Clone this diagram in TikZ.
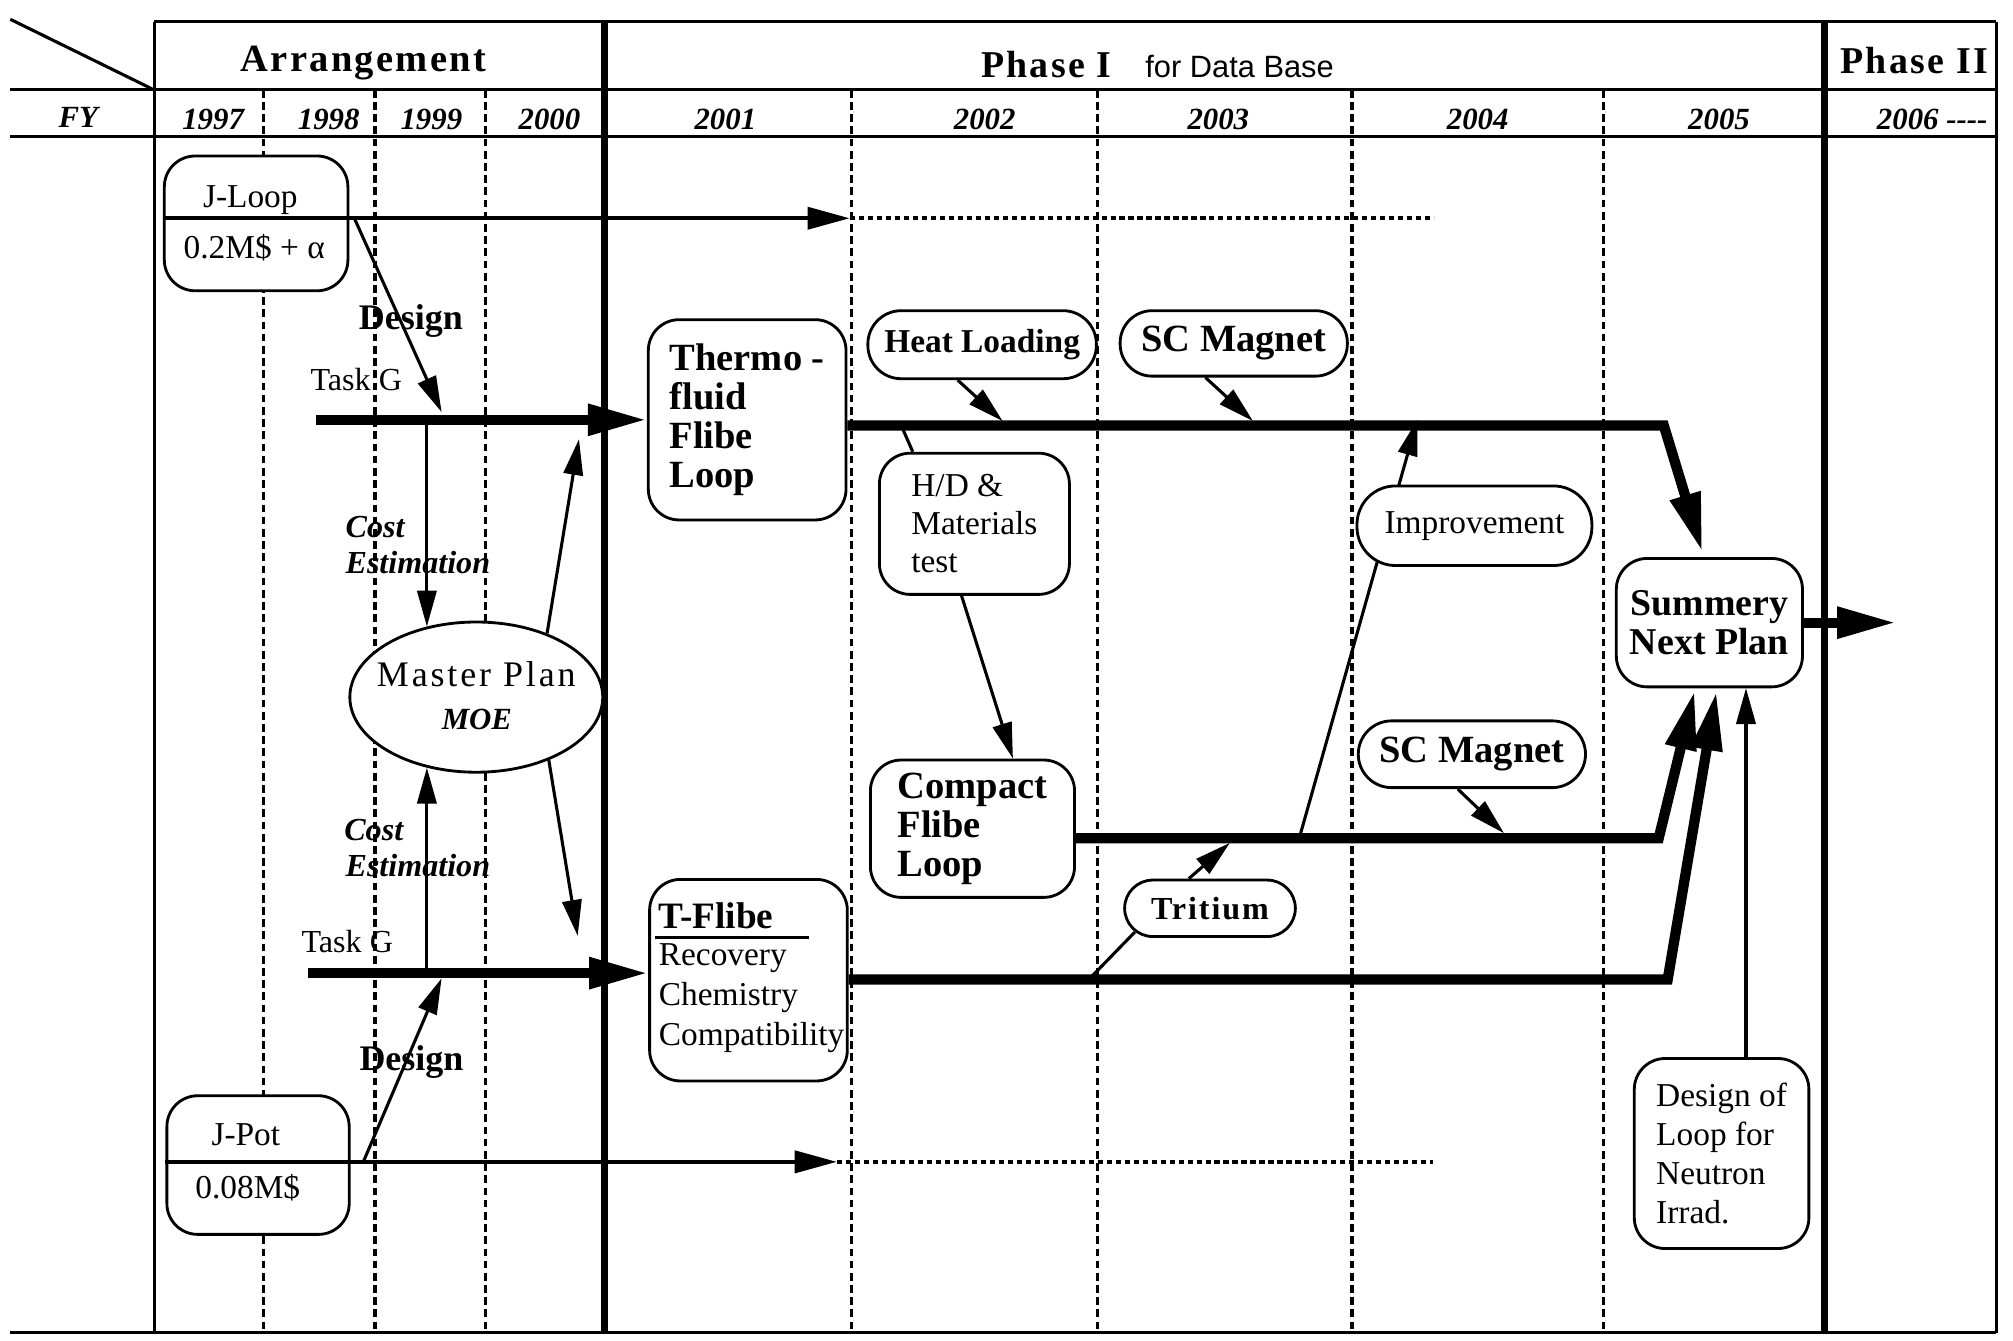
\documentclass[tikz,border=0pt]{standalone}
\usepackage{fontspec}
\setmainfont{Liberation Serif}
\newfontfamily\sansfam{Liberation Sans}
\newfontfamily\spacedfam[LetterSpace=6]{Liberation Serif}
\newfontfamily\widefam[LetterSpace=8]{Liberation Serif}
\usetikzlibrary{arrows.meta,shapes.geometric}
\pgfdeclarelayer{back}
\pgfdeclarelayer{mid}
\pgfsetlayers{back,mid,main}
\newcommand{\setfs}[2]{\fontsize{#1}{#2}\selectfont}
\begin{document}
\begin{tikzpicture}[x=1pt,y=-1pt,
  frameline/.style={line width=2.4pt},
  heavyrule/.style={line width=5.5pt},
  yeardash/.style={line width=2.6pt,dash pattern=on 6pt off 3.5pt},
  dotline/.style={line width=3.5pt,dash pattern=on 4pt off 3pt},
  box/.style={draw,line width=2.2pt,fill=white,rounded corners=24pt,inner sep=0pt},
  pill/.style={box,rounded corners=#1},
  lbl/.style={inner sep=0pt,anchor=base},
  lblw/.style={inner sep=0pt,anchor=base west},
  thinarrow/.style={line width=2.4pt,-{Triangle[length=28pt,width=15pt]}},
  plainline/.style={line width=2.4pt},
  midarrow/.style={line width=3.5pt,-{Triangle[length=33pt,width=17pt]}},
  heavyarrow/.style={line width=8pt,line join=miter,-{Triangle[length=46pt,width=23pt]}},
  yearfont/.style={font=\setfs{24}{24}\bfseries\itshape},
  costfont/.style={font=\setfs{25}{25}\bfseries\itshape},
]
\useasboundingbox (0,0) rectangle (1568,1044);

% ---------- coordinates ----------
\coordinate (jlend) at (662,170);
\coordinate (jldot) at (1117,170);
\coordinate (jpend) at (652,905);
\coordinate (jpdot) at (1116,905);
\coordinate (tg1s) at (246,327);
\coordinate (tg2s) at (240,758);
\coordinate (d1s) at (276,170);
\coordinate (d1e) at (344,321);
\coordinate (d2s) at (283,905);
\coordinate (d2e) at (344,762);
\coordinate (u1e) at (451,342);
\coordinate (dn1e) at (450,729);
\coordinate (o1b) at (1296,331.5);
\coordinate (o1e) at (1326,430);
\coordinate (hle) at (781,328);
\coordinate (sc1e) at (976,328);
\coordinate (hdl) at (702,331.5);
\coordinate (o2b) at (1292,653);
\coordinate (o2e) at (1320,538);
\coordinate (sc2e) at (1171.5,649);
\coordinate (impA) at (1012,653);
\coordinate (impB) at (1104,327);
\coordinate (tre) at (958,656.5);
\coordinate (trl) at (848,763);
\coordinate (o3b) at (1299,763);
\coordinate (o3e) at (1337,538.5);
\coordinate (so) at (1477,485);
\coordinate (dle) at (1360,536);

% ---------- header texts ----------
\node[lbl,font=\setfs{30}{30}\spacedfam\bfseries] (arr) at (283,55.5) {Arrangement};
\node[lblw,font=\setfs{29.5}{30}\spacedfam\bfseries] (ph1) at (764,60) {Phase I};
\node[lblw,font=\setfs{24}{24}\sansfam] (db) at (892,60) {for Data Base};
\node[lbl,font=\setfs{29.5}{30}\spacedfam\bfseries] (ph2) at (1491,57.5) {Phase II};
\node[lbl,yearfont] (fy) at (61,99) {FY};
\node[lbl,yearfont] (y97) at (166,100.5) {1997};
\node[lbl,yearfont] (y98) at (256,100.5) {1998};
\node[lbl,yearfont] (y99) at (336,100.5) {1999};
\node[lbl,yearfont] (y00) at (428,100.5) {2000};
\node[lbl,yearfont] (y01) at (565,100.5) {2001};
\node[lbl,yearfont] (y02) at (767,100.5) {2002};
\node[lbl,yearfont] (y03) at (949,100.5) {2003};
\node[lbl,yearfont] (y04) at (1151,100.5) {2004};
\node[lbl,yearfont] (y05) at (1339,100.5) {2005};
\node[lbl,yearfont] (y06) at (1505,100.5) {2006 -{}-{}-{}-};

% ---------- boxes ----------
\node[box,minimum width=143pt,minimum height=105pt] (jloop) at (199.5,174) {};
\node[lbl,font=\setfs{26}{26}] (jlt) at (195,161.5) {J-Loop};
\node[lbl,font=\setfs{26}{26}] (jlc) at (198,201.5) {0.2M\$ + α};

\node[box,minimum width=142pt,minimum height=108pt] (jpot) at (201,907.5) {};
\node[lbl,font=\setfs{26}{26}] (jpt) at (191.5,892) {J-Pot};
\node[lbl,font=\setfs{26}{26}] (jpc) at (193,933.5) {0.08M\$};

\node[ellipse,draw,line width=2.2pt,fill=white,inner sep=0pt,minimum width=197pt,minimum height=117pt] (mp) at (371,543) {};
\node[lbl,font=\setfs{28}{28}\widefam] (mpt) at (371,535) {Master Plan};
\node[lbl,font=\setfs{24}{24}\bfseries\itshape] (moe) at (371.5,568) {MOE};

\node[box,minimum width=154pt,minimum height=156pt,align=left,font=\setfs{30}{30.5}\bfseries] (thermo) at (582,327) {Thermo -\\fluid\\Flibe\\Loop};
\node[pill=26pt,minimum width=178pt,minimum height=53pt,font=\setfs{26}{26}\bfseries] (hl) at (765,268.5) {Heat Loading};
\node[pill=25pt,minimum width=177pt,minimum height=51pt,font=\setfs{30}{30}\bfseries] (sc1) at (961,267.5) {SC Magnet};
\node[box,minimum width=148pt,minimum height=110pt,align=left,font=\setfs{26}{29.5}] (hd) at (759,408) {H/D \&\\Materials\\test};
\node[box,minimum width=159pt,minimum height=107pt,align=left,font=\setfs{30}{30.5}\bfseries] (cf) at (757.5,645.5) {Compact\\Flibe\\Loop};
\node[pill=22pt,minimum width=133pt,minimum height=44pt,font=\setfs{25}{25}\spacedfam\bfseries] (tr) at (942.5,707.5) {Tritium};
\node[pill=30pt,minimum width=183pt,minimum height=62pt,font=\setfs{26}{26}] (imp) at (1148.5,409.5) {Improvement};
\node[pill=26pt,minimum width=177pt,minimum height=52pt,font=\setfs{30}{30}\bfseries] (sc2) at (1146.5,587.5) {SC Magnet};
\node[box,minimum width=145pt,minimum height=100pt,align=center,font=\setfs{29.5}{31}\bfseries] (sum) at (1331.5,485) {Summery\\Next Plan};
\node[box,minimum width=136pt,minimum height=148pt,align=left,font=\setfs{26}{30.3}] (dl) at (1341,898.5) {Design of\\Loop for\\Neutron\\Irrad.};

\node[box,minimum width=154pt,minimum height=157pt] (tflibe) at (583,763.5) {};
\node[lblw,font=\setfs{29}{29}\bfseries] (tft) at (513,723.5) {T-Flibe};
\node[lblw,font=\setfs{26}{26}] (tf1) at (513,752.3) {Recovery};
\node[lblw,font=\setfs{26}{26}] (tf2) at (513,783.4) {Chemistry};
\node[lblw,font=\setfs{26}{26}] (tf3) at (513,814.6) {Compatibility};
\draw[line width=2.2pt] (510.5,730) -- (630.5,730);

% ---------- free labels ----------
\node[lbl,font=\setfs{28}{28}\bfseries] (des1) at (320,256.5) {Design};
\node[lbl,font=\setfs{25}{25}] (tg1) at (277.5,304) {Task G};
\node[lblw,costfont] (ce1a) at (269,418.5) {Cost};
\node[lblw,costfont] (ce1b) at (269,446.5) {Estimation};
\node[lblw,costfont] (ce2a) at (268,654.5) {Cost};
\node[lblw,costfont] (ce2b) at (269,682.5) {Estimation};
\node[lbl,font=\setfs{25}{25}] (tg2) at (270.5,742) {Task G};
\node[lbl,font=\setfs{28}{28}\bfseries] (des2) at (320.5,834) {Design};

% ---------- J-Loop / J-Pot lines (on top of their boxes) ----------
\draw[midarrow] (jloop.west |- jlend) -- (jlend);
\draw[dotline] (jlend) -- (jldot);
\draw[midarrow] (jpot.west |- jpend) -- (jpend);
\draw[dotline] (jpend) -- (jpdot);

% ---------- connectors ----------
\begin{pgfonlayer}{mid}
\draw[heavyarrow] (tg1s) -- (thermo.west |- tg1s);
\draw[heavyarrow] (tg2s) -- (tflibe.west |- tg2s);
\draw[thinarrow] (d1s) -- (d1e);
\draw[thinarrow] (d2s) -- (d2e);
\draw[thinarrow] (mp.125 |- tg1s) -- (mp.125);
\draw[thinarrow] (mp.235 |- tg2s) -- (mp.235);
\draw[thinarrow] (mp.42) -- (u1e);
\draw[thinarrow] (mp.-41) -- (dn1e);
\draw[heavyarrow] (thermo.east |- o1b) -- (o1b) -- (o1e);
\draw[thinarrow] ([xshift=-19pt]hl.south) -- (hle);
\draw[thinarrow] ([xshift=-22pt]sc1.south) -- (sc1e);
\draw[plainline] (hdl) -- ([xshift=-48pt]hd.north);
\draw[thinarrow] ([xshift=-10pt]hd.south) -- ([xshift=31.5pt]cf.north);
\draw[heavyarrow] (cf.east |- o2b) -- (o2b) -- (o2e);
\draw[thinarrow] ([xshift=-11pt]sc2.south) -- (sc2e);
\draw[thinarrow] (impA) -- (impB);
\draw[thinarrow] ([xshift=-16.5pt]tr.north) -- (tre);
\draw[plainline] (trl) -- ([xshift=-58.5pt,yshift=-18.5pt]tr.center);
\draw[heavyarrow] (tflibe.east |- o3b) -- (o3b) -- (o3e);
\draw[heavyarrow] (sum.east) -- (so);
\draw[thinarrow] ([xshift=19pt]dl.north) -- (dle);
\end{pgfonlayer}

% ---------- frame ----------
\begin{pgfonlayer}{back}
\fill[white] (0,0) rectangle (1568,1044);
\foreach \xx in {205,292,378,663,855,1053,1249}
  \draw[yeardash] (\xx,70) -- (\xx,1038);
\draw[frameline] (8,15) -- (120,70);
\draw[frameline] (120,17) -- (1555,17);
\draw[frameline] (8,70) -- (1555,70);
\draw[frameline] (8,106.5) -- (1555,106.5);
\draw[frameline] (8,1038) -- (1555,1038);
\draw[frameline] (120,17) -- (120,1038);
\draw[frameline] (1555,17) -- (1555,1038);
\draw[heavyrule] (471,17) -- (471,1038);
\draw[heavyrule] (1421,17) -- (1421,1038);
\end{pgfonlayer}
\end{tikzpicture}
\end{document}
